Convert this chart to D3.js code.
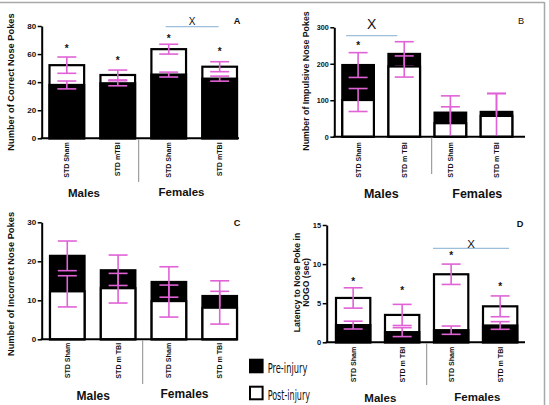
<!DOCTYPE html>
<html><head><meta charset="utf-8">
<script src="https://cdn.jsdelivr.net/npm/d3@7"></script>
<style>
html,body{margin:0;padding:0;background:#fff;}
svg{display:block;font-family:"Liberation Sans",Arial,sans-serif;}
</style></head>
<body>
<svg id="chart" width="549" height="405"></svg>
<script>
// ---------- DATA ----------
const groups = ["Males", "Females"];
const categoriesACD = ["STD Sham", "STD mTBI", "STD Sham", "STD mTBI"];
const categoriesB = ["STD Sham", "STD m TBI", "STD Sham", "STD m TBI"];
const categoriesC = ["STD Sham", "STD m TBI", "STD Sham", "STD m TBI"];
const categoriesD = ["STD Sham", "STD m TBI", "STD Sham", "STD m TBI"];
const seriesNames = ["Pre-injury", "Post-injury"];

// A: Number of Correct Nose Pokes
const correctPre = [38, 39.2, 45.4, 42.5];
const correctPreErr = [2.8, 1.8, 1.75, 1.8];
const correctPost = [52.1, 45.1, 63.5, 51];
const correctPostErr = [5.8, 3.5, 3.5, 3.55];
const correctTicks = [0, 20, 40, 60, 80];
const correctStars = [65.4, 56.5, 72.4, 63.4];
const correctSig = {from: 2, to: 3, level: 79.5};

// B: Number of Impulsive Nose Pokes
const impulsivePre = [196.5, 227, 66, 68];
const impulsivePreErr = [34, 33.5, 46, 50];
const impulsivePost = [100.6, 192.5, 37, 57];
const impulsivePostErr = [31.5, 29, 45, 62];
const impulsiveTicks = [0, 100, 200, 300];
const impulsiveStars = [256, null, null, null];
const impulsiveSig = {from: 0, to: 1, level: 277};

// C: Number of Incorrect Nose Pokes
const incorrectPre = [21.4, 17.7, 14.7, 11.1];
const incorrectPreErr = [3.8, 3.9, 3.9, 3.9];
const incorrectPost = [12.3, 13.1, 9.8, 8.1];
const incorrectPostErr = [4.0, 3.8, 4.1, 4.2];
const incorrectTicks = [0, 10, 20, 30];
const incorrectStars = [null, null, null, null];
const incorrectSig = null;

// D: Latency to Nose Poke in NOGO (sec)
const latencyPre = [2.2, 1.3, 1.55, 2.15];
const latencyPreErr = [0.5, 0.57, 0.53, 0.49];
const latencyPost = [5.67, 3.5, 8.7, 4.6];
const latencyPostErr = [1.3, 1.35, 1.3, 1.33];
const latencyTicks = [0, 5, 10, 15];
const latencyStars = [7.97, 6.9, 11.4, 7.4];
const latencySig = {from: 2, to: 3, level: 12.0};

// ---------- LAYOUT ----------
const panels = [
  {letter:"A", letterBold:true, letterPos:[237,21], cats:categoriesACD,
   pre:correctPre, preErr:correctPreErr, post:correctPost, postErr:correctPostErr,
   ticks:correctTicks, stars:correctStars, sig:correctSig,
   axisX:41.7, axisEnd:239, barRange:[49.5,237], pad:0.32, yRange:[138.3,26],
   divider:[138.7,182], labelX:[11], labelY:82, label:["Number of Correct Nose Pokes"], labelSize:9.3,
   tickGap:4, groupPos:[[84,197],[181.5,196]], groupSize:11.5,
   sigOff:[0.41,0.47], xSize:10, xRaise:5, tickFont:8},
  {letter:"B", letterBold:false, letterPos:[521,20.7], cats:categoriesB,
   pre:impulsivePre, preErr:impulsivePreErr, post:impulsivePost, postErr:impulsivePostErr,
   ticks:impulsiveTicks, stars:impulsiveStars, sig:impulsiveSig,
   axisX:334.3, axisEnd:525, barRange:[342.3,512.3], pad:0.315, yRange:[136.7,27.3],
   divider:[431.7,174], labelX:[306.3], labelY:81, label:["Number of Impulsive Nose Pokes"], labelSize:8.8,
   tickGap:5.5, groupPos:[[381.3,197.5],[477.3,197.5]], groupSize:12.5,
   sigOff:[0.12,0.28], xSize:14, xRaise:12, tickFont:7.2},
  {letter:"C", letterBold:true, letterPos:[237,222.7], cats:categoriesC,
   pre:incorrectPre, preErr:incorrectPreErr, post:incorrectPost, postErr:incorrectPostErr,
   ticks:incorrectTicks, stars:incorrectStars, sig:incorrectSig,
   axisX:41.7, axisEnd:237, barRange:[50,237], pad:0.32, yRange:[339.3,222.3],
   divider:[142.7,384], labelX:[11], labelY:284, label:["Number of Incorrect Nose Pokes"], labelSize:9.3,
   tickGap:3.5, groupPos:[[93.3,400],[184.5,398.3]], groupSize:12,
   sigOff:[0,0], xSize:10, xRaise:5, tickFont:8},
  {letter:"D", letterBold:true, letterPos:[520,224], cats:categoriesD,
   pre:latencyPre, preErr:latencyPreErr, post:latencyPost, postErr:latencyPostErr,
   ticks:latencyTicks, stars:latencyStars, sig:latencySig,
   axisX:326.7, axisEnd:525, barRange:[336,517.3], pad:0.30, yRange:[342.3,225],
   divider:[426.7,385], labelX:[297,306], labelY:282.5, label:["Latency to Nose Poke in","NOGO (sec)"], labelSize:8.6,
   tickGap:4.4, groupPos:[[380.3,401.7],[477.3,401]], groupSize:11.5,
   sigOff:[-0.03,0.76], xSize:11.5, xRaise:5, tickFont:7.5}
];

const ERR = "#e062d6", TXT = "#111", CAPW = 19;
const svg = d3.select("#chart");

// frame
svg.append("line").attr("x1",0).attr("x2",544.5).attr("y1",2.5).attr("y2",2.5)
  .attr("stroke","#a8a8a8").attr("stroke-width",1.5);
svg.append("line").attr("x1",544.5).attr("x2",544.5).attr("y1",2).attr("y2",405)
  .attr("stroke","#a8a8a8").attr("stroke-width",1.5);

panels.forEach(p => {
  const g = svg.append("g");
  const yMax = p.ticks[p.ticks.length-1];
  const y = d3.scaleLinear().domain([0, yMax]).range(p.yRange);
  const x = d3.scaleBand().domain(d3.range(p.cats.length)).range(p.barRange)
    .paddingInner(p.pad).paddingOuter(0);
  const bw = x.bandwidth();
  const y0 = y(0);

  // bars + error bars (larger value in back)
  p.cats.forEach((c, i) => {
    const series = [
      {v:p.pre[i], e:p.preErr[i], fill:"#000"},
      {v:p.post[i], e:p.postErr[i], fill:"#fff"}
    ].sort((a,b) => b.v - a.v);
    series.forEach(s => {
      g.append("rect").attr("x", x(i)).attr("y", y(s.v))
        .attr("width", bw).attr("height", y0 - y(s.v))
        .attr("fill", s.fill).attr("stroke", "#000").attr("stroke-width", 2.2);
      const cx = x(i) + bw/2;
      const hi = s.v + s.e, lo = s.v - s.e;
      const loC = Math.max(lo, 0);
      g.append("line").attr("x1",cx).attr("x2",cx).attr("y1",y(hi)).attr("y2",y(loC))
        .attr("stroke",ERR).attr("stroke-width",1.6);
      g.append("line").attr("x1",cx-CAPW/2).attr("x2",cx+CAPW/2).attr("y1",y(hi)).attr("y2",y(hi))
        .attr("stroke",ERR).attr("stroke-width",1.6);
      if (lo > 0) {
        g.append("line").attr("x1",cx-CAPW/2).attr("x2",cx+CAPW/2).attr("y1",y(lo)).attr("y2",y(lo))
          .attr("stroke",ERR).attr("stroke-width",1.6);
      }
    });
    // star
    if (p.stars[i] != null) {
      g.append("text").attr("x", x(i)+bw/2).attr("y", y(p.stars[i]) + 5.5)
        .attr("text-anchor","middle").attr("font-size",10).attr("font-weight","bold")
        .attr("fill",TXT).text("*");
    }
    // category label
    g.append("text")
      .attr("transform", `translate(${x(i)+bw/2},${y0+p.tickGap}) rotate(-90)`)
      .attr("dy","0.35em").attr("text-anchor","end")
      .attr("font-size",7.1).attr("font-weight","bold").attr("fill",TXT).text(c);
  });

  // axes
  const ax = d3.axisLeft(y).tickValues(p.ticks).tickSize(4).tickSizeOuter(0).tickPadding(1.5);
  const axg = g.append("g").attr("transform",`translate(${p.axisX},0)`).call(ax);
  axg.select(".domain").attr("stroke","#000").attr("stroke-width",2);
  axg.selectAll(".tick line").attr("stroke","#000").attr("stroke-width",1.5);
  axg.selectAll(".tick text").attr("font-size",p.tickFont).attr("font-weight","bold")
    .attr("fill",TXT).attr("font-family","Liberation Sans, Arial, sans-serif");
  g.append("line").attr("x1",p.axisX-1).attr("x2",p.axisEnd).attr("y1",y0).attr("y2",y0)
    .attr("stroke","#000").attr("stroke-width",2);

  // divider between groups
  g.append("line").attr("x1",p.divider[0]).attr("x2",p.divider[0])
    .attr("y1",y0+1).attr("y2",p.divider[1]).attr("stroke","#8a8a8a").attr("stroke-width",1);

  // group labels
  groups.forEach((gr, k) => {
    g.append("text").attr("x",p.groupPos[k][0]).attr("y",p.groupPos[k][1])
      .attr("text-anchor","middle").attr("font-size",p.groupSize).attr("font-weight","bold")
      .attr("fill",TXT).text(gr);
  });

  // y label
  p.label.forEach((t, k) => {
    g.append("text").attr("transform",`translate(${p.labelX[k]},${p.labelY}) rotate(-90)`)
      .attr("dy","0.35em").attr("text-anchor","middle")
      .attr("font-size",p.labelSize).attr("font-weight","bold").attr("fill",TXT).text(t);
  });

  // panel letter
  g.append("text").attr("x",p.letterPos[0]).attr("y",p.letterPos[1]+3.3)
    .attr("text-anchor","middle").attr("font-size",9.2)
    .attr("font-weight",p.letterBold?"bold":"normal").attr("fill",TXT).text(p.letter);

  // significance bracket
  if (p.sig) {
    const x1 = x(p.sig.from) + p.sigOff[0]*bw, x2 = x(p.sig.to) + p.sigOff[1]*bw;
    const ly = y(p.sig.level);
    g.append("line").attr("x1",x1).attr("x2",x2).attr("y1",ly).attr("y2",ly)
      .attr("stroke","#9cc0dc").attr("stroke-width",1.2);
    g.append("text").attr("x",(x1+x2)/2).attr("y",ly - p.xRaise + 0.36*p.xSize)
      .attr("text-anchor","middle").attr("font-size",p.xSize).attr("fill",TXT).text("X");
  }
});

// legend
const legend = svg.append("g");
const legendFill = ["#000", "#fff"];
const legendY = [366, 393];
seriesNames.forEach((s, k) => {
  legend.append("rect").attr("x",250).attr("y",legendY[k]-6.3).attr("width",12.6).attr("height",12.6)
    .attr("fill",legendFill[k]).attr("stroke","#000").attr("stroke-width",2);
  legend.append("text").attr("x",267.7).attr("y",legendY[k]+6.5)
    .attr("font-size",14).attr("fill",TXT)
    .attr("font-family","Liberation Sans Narrow, DejaVu Sans Condensed, sans-serif")
    .attr("textLength", k===0 ? 39.6 : 42.3).attr("lengthAdjust","spacingAndGlyphs")
    .text(s);
});
</script>
</body></html>
